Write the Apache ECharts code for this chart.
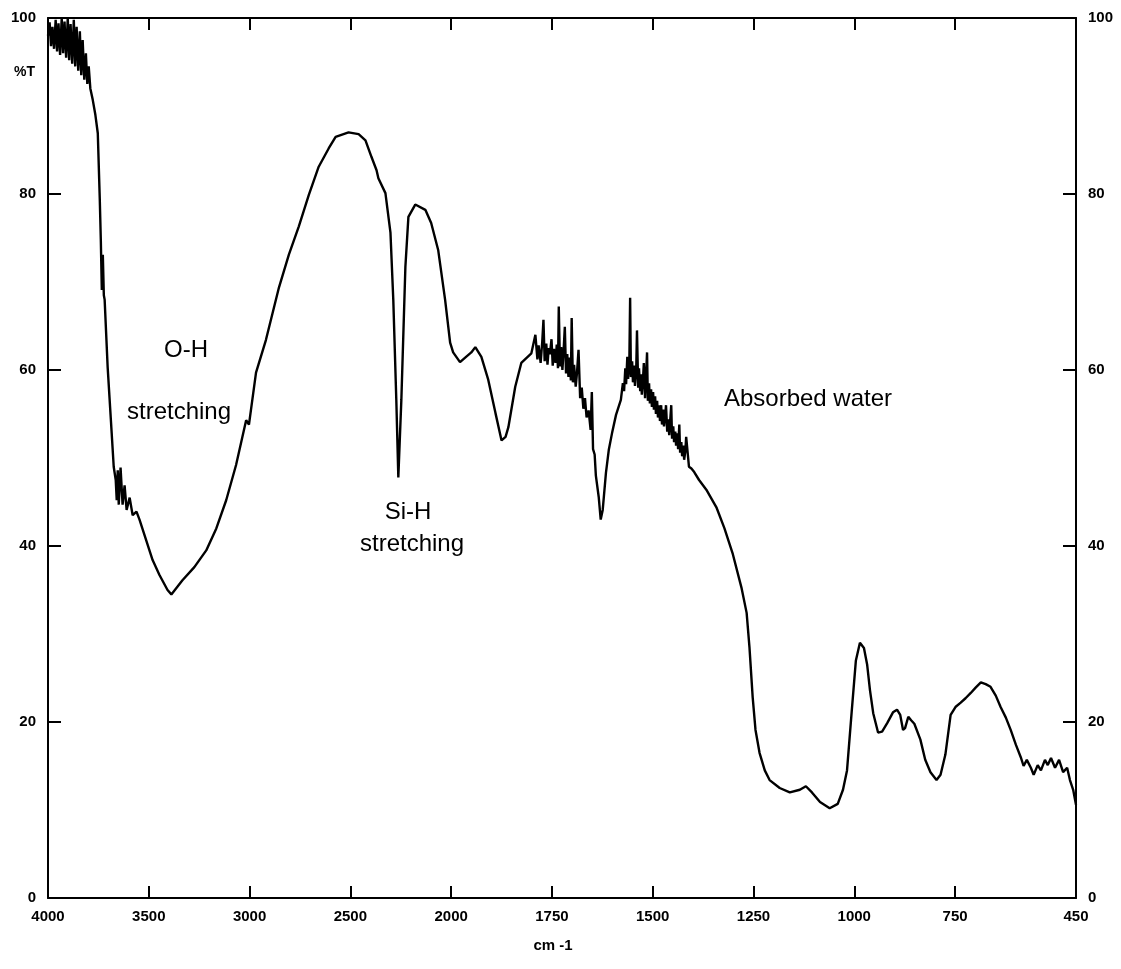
<!DOCTYPE html>
<html>
<head>
<meta charset="utf-8">
<title>IR spectrum</title>
<script src="https://cdn.jsdelivr.net/npm/echarts@6/dist/echarts.min.js"></script>
<style>
  html, body { margin: 0; padding: 0; background: #fff; }
  #chart { width: 1121px; height: 969px; }
</style>
</head>
<body>
<div id="chart"></div>
<script>
// wavenumber (cm-1), left to right
const wavenumbers = [
  4000, 3992, 3985, 3978, 3970, 3962, 3955, 3948, 3940, 3932, 3925, 3918, 3910, 3902, 3895, 3888,
  3880, 3872, 3865, 3858, 3850, 3842, 3835, 3828, 3820, 3812, 3805, 3798, 3790, 3778, 3765, 3753, 3743,
  3738, 3733, 3728, 3723, 3719, 3704, 3684, 3674, 3664, 3659, 3654, 3649, 3640, 3630, 3620, 3610,
  3595, 3580, 3561, 3546, 3481, 3447, 3407, 3388, 3333, 3274, 3215, 3165, 3116, 3067, 3017, 3003,
  2968, 2919, 2854, 2805, 2756, 2706, 2657, 2607, 2573, 2509, 2459, 2425, 2395, 2370, 2361, 2326,
  2301, 2287, 2272, 2262, 2247, 2227, 2212, 2178, 2128, 2099, 2064, 2030, 2005,
  1995, 1978, 1963, 1950, 1940, 1925, 1908, 1890, 1875, 1865, 1858, 1841, 1826, 1801,
  1791, 1786, 1783, 1778, 1774, 1771, 1768, 1764, 1761, 1758, 1755, 1751, 1748, 1745, 1741, 1738,
  1735, 1733, 1730, 1727, 1724, 1721, 1718, 1715, 1712, 1709, 1706, 1703, 1701, 1698, 1695, 1691,
  1688, 1684, 1680, 1676, 1672, 1668, 1664, 1659, 1654, 1651, 1648, 1644, 1641, 1634, 1629, 1624,
  1616, 1609, 1601, 1591, 1579,
  1574, 1571, 1568, 1566, 1563, 1561, 1558, 1556, 1554, 1551, 1549, 1546, 1544, 1541, 1539, 1536,
  1534, 1531, 1529, 1527, 1524, 1522, 1519, 1517, 1514, 1512, 1509, 1507, 1504, 1502, 1499, 1497,
  1494, 1492, 1489, 1487, 1484, 1482, 1479, 1477, 1474, 1472, 1469, 1467, 1464, 1462, 1459, 1457,
  1454, 1452, 1449, 1447, 1444, 1442, 1439, 1437, 1434, 1432, 1429, 1427, 1424, 1422, 1419, 1417,
  1410, 1404, 1397, 1385, 1367, 1342, 1322, 1302, 1280, 1267,
  1260, 1252, 1245, 1235, 1222, 1210, 1185, 1160, 1135, 1120, 1105, 1085, 1061, 1041, 1028, 1018,
  1006, 996, 986, 976, 968, 961, 953, 941, 931, 918, 904, 894, 886, 879, 874, 866,
  859, 851, 836, 824, 811, 796, 786, 774, 761, 749, 736, 724, 711, 699, 686, 674,
  662, 649, 637, 624, 612, 599, 587, 580, 572, 562, 555, 545, 537, 527, 520, 512,
  502, 492, 482, 472, 465, 457, 450
];

// percent transmittance at each wavenumber above
const transmittance = [
  98.0, 99.5, 96.8, 99.0, 96.5, 99.8, 96.2, 99.4, 95.8, 100, 96.0, 99.6, 95.5, 100, 95.2, 99.3,
  94.8, 99.8, 94.5, 99.0, 94.0, 98.5, 93.5, 97.5, 93.0, 96.0, 92.5, 94.5, 92.0, 90.7, 89.0, 86.9, 79.3,
  74.8, 69.1, 73.1, 68.5, 68.0, 60.3, 52.8, 49.0, 47.5, 45.2, 48.6, 44.7, 48.9, 44.7, 46.9, 44.1,
  45.5, 43.5, 43.9, 43.0, 38.4, 36.7, 35.0, 34.5, 36.1, 37.6, 39.5, 42.0, 45.2, 49.2, 54.3, 53.8,
  59.7, 63.4, 69.4, 73.1, 76.3, 79.9, 83.1, 85.2, 86.5, 87.0, 86.8, 86.1, 84.2, 82.7, 81.8, 80.1,
  75.6, 68.0, 56.6, 47.8, 56.6, 71.7, 77.4, 78.8, 78.2, 76.7, 73.6, 68.0, 63.1,
  62.0, 60.9, 61.5, 62.0, 62.6, 61.5, 58.9, 55.1, 52.0, 52.4, 53.5, 58.1, 60.8, 61.9,
  64.0, 61.2, 62.8, 60.8, 63.2, 65.7, 61.0, 63.0, 60.6, 62.5, 61.8, 63.5, 60.5, 62.4, 60.8, 62.9,
  60.2, 67.2, 60.4, 62.6, 60.0, 62.2, 64.9, 59.6, 61.8, 59.2, 61.4, 58.8, 65.9, 58.6, 60.6, 58.1,
  59.6, 62.3, 56.8, 58.0, 55.6, 56.8, 54.6, 55.4, 53.2, 57.5, 51.0, 50.4, 48.0, 45.6, 43.0, 44.1,
  48.3, 50.9, 52.8, 54.9, 56.6,
  58.5, 57.6, 60.2, 58.4, 61.5, 59.0, 60.8, 68.2, 59.2, 61.0, 58.6, 60.5, 58.2, 59.8, 64.5, 58.0,
  60.2, 57.6, 59.5, 57.2, 59.0, 60.8, 56.8, 58.8, 62.0, 56.5, 58.5, 56.2, 57.8, 55.8, 57.5, 55.5,
  57.0, 55.0, 56.5, 54.6, 56.0, 54.2, 56.0, 53.8, 55.5, 53.6, 54.8, 56.0, 53.0, 54.4, 52.6, 54.0,
  56.0, 52.2, 53.6, 51.8, 53.0, 51.4, 52.8, 51.0, 53.8, 50.6, 51.8, 50.2, 51.4, 49.8, 50.8, 52.4,
  49.0, 48.8, 48.4, 47.5, 46.4, 44.4, 42.0, 39.2, 35.3, 32.4,
  28.5, 22.8, 19.1, 16.5, 14.5, 13.4, 12.5, 12.0, 12.3, 12.7, 12.0, 10.9, 10.2, 10.7, 12.3, 14.5,
  21.4, 27.0, 29.0, 28.4, 26.5, 23.6, 21.0, 18.8, 18.9, 19.9, 21.1, 21.4, 20.8, 19.1, 19.3, 20.6,
  20.2, 19.8, 18.0, 15.7, 14.3, 13.4, 14.0, 16.3, 20.8, 21.7, 22.2, 22.7, 23.3, 23.9, 24.5, 24.3,
  24.0, 23.0, 21.7, 20.5, 19.1, 17.4, 16.0, 15.0, 15.7, 14.8, 14.0, 15.1, 14.5, 15.7, 15.1, 15.9,
  14.8, 15.7, 14.3, 14.8, 13.4, 12.3, 10.6
];

// x ticks (cm-1) and their labels
const xTickValues = [4000, 3500, 3000, 2500, 2000, 1750, 1500, 1250, 1000, 750, 450];
const xTickLabels = ['4000', '3500', '3000', '2500', '2000', '1750', '1500', '1250', '1000', '750', '450'];
const yTickValues = [0, 20, 40, 60, 80, 100];

// the recorder halves its scale above 2000 cm-1
const toPos = (wn) => (wn >= 2000 ? (4000 - wn) / 2 : 1000 + (2000 - wn));

const tickPos = xTickValues.map(toPos);
const labelFor = (v) => {
  const i = tickPos.findIndex((p) => Math.abs(p - v) < 0.5);
  return i >= 0 ? xTickLabels[i] : '';
};

const seriesData = wavenumbers.map((wn, i) => [toPos(wn), transmittance[i]]);

const tickFont = {
  color: '#000',
  fontFamily: 'Liberation Sans',
  fontWeight: 'bold',
  fontSize: 15
};
const annotFont = {
  fill: '#000',
  fontFamily: 'Liberation Sans',
  fontSize: 24,
  textAlign: 'center',
  textVerticalAlign: 'middle'
};
const axisLine = { show: true, onZero: false, lineStyle: { color: '#000', width: 2 } };
const tickLine = { color: '#000', width: 2 };

const chart = echarts.init(document.getElementById('chart'));
chart.setOption({
  animation: false,
  backgroundColor: '#fff',
  grid: { left: 48, right: 45, top: 18, bottom: 71, outerBoundsMode: 'none' },
  xAxis: [
    {
      type: 'value',
      position: 'bottom',
      min: 0,
      max: toPos(450),
      axisLine: axisLine,
      splitLine: { show: false },
      axisTick: { show: true, inside: true, length: 12, customValues: tickPos.slice(1, -1), lineStyle: tickLine },
      axisLabel: { ...tickFont, margin: 11, customValues: tickPos, formatter: labelFor }
    },
    {
      type: 'value',
      position: 'top',
      min: 0,
      max: toPos(450),
      axisLine: axisLine,
      splitLine: { show: false },
      axisTick: { show: true, inside: true, length: 12, customValues: tickPos.slice(1, -1), lineStyle: tickLine },
      axisLabel: { show: false }
    }
  ],
  yAxis: [
    {
      type: 'value',
      position: 'left',
      min: 0,
      max: 100,
      interval: 20,
      axisLine: axisLine,
      splitLine: { show: false },
      axisTick: { show: true, inside: true, length: 13, customValues: yTickValues.slice(1, -1), lineStyle: tickLine },
      axisLabel: { ...tickFont, margin: 12, customValues: yTickValues, padding: [5, 0, 0, 0] }
    },
    {
      type: 'value',
      position: 'right',
      min: 0,
      max: 100,
      interval: 20,
      axisLine: axisLine,
      splitLine: { show: false },
      axisTick: { show: true, inside: true, length: 13, customValues: yTickValues.slice(1, -1), lineStyle: tickLine },
      axisLabel: { ...tickFont, margin: 12, customValues: yTickValues, padding: [5, 0, 0, 0] }
    }
  ],
  series: [
    {
      type: 'line',
      data: seriesData,
      showSymbol: false,
      lineStyle: { color: '#000', width: 2.4 },
      xAxisIndex: 0,
      yAxisIndex: 0
    }
  ],
  graphic: [
    { type: 'text', left: 14, top: 65, style: { text: '%T', fill: '#000', fontFamily: 'Liberation Sans', fontWeight: 'bold', fontSize: 14 } },
    { type: 'text', x: 553, y: 946, style: { ...annotFont, text: 'cm -1', fontSize: 15, fontWeight: 'bold' } },
    { type: 'text', x: 186, y: 350, style: { ...annotFont, text: 'O-H' } },
    { type: 'text', x: 179, y: 412, style: { ...annotFont, text: 'stretching' } },
    { type: 'text', x: 408, y: 512, style: { ...annotFont, text: 'Si-H' } },
    { type: 'text', x: 412, y: 544, style: { ...annotFont, text: 'stretching' } },
    { type: 'text', x: 808, y: 399, style: { ...annotFont, text: 'Absorbed water' } }
  ]
});
</script>
</body>
</html>
